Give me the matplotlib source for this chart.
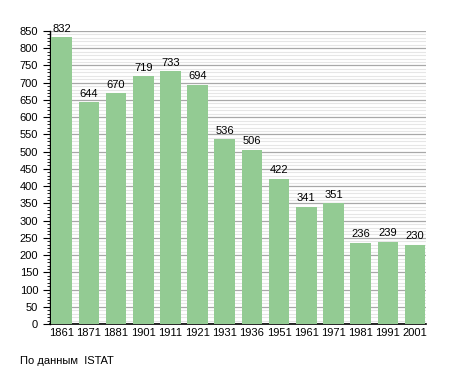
import numpy as np
import matplotlib
matplotlib.use("Agg")
import matplotlib.pyplot as plt
from matplotlib.ticker import MultipleLocator

years = ['1861', '1871', '1881', '1901', '1911', '1921', '1931',
         '1936', '1951', '1961', '1971', '1981', '1991', '2001']
population = [832, 644, 670, 719, 733, 694, 536, 506, 422, 341, 351, 236, 239, 230]

plt.rcParams['font.family'] = ['Liberation Sans', 'DejaVu Sans']

fig = plt.figure(figsize=(4.55, 3.73), dpi=100)
ax = fig.add_axes([0.110, 0.131, 0.826, 0.786])

x = np.arange(len(years))
bars = ax.bar(x, population, width=0.76, color='#93cb93', zorder=3)

# grid: light every 10, darker every 50
ax.yaxis.set_major_locator(MultipleLocator(50))
ax.yaxis.set_minor_locator(MultipleLocator(10))
ax.grid(axis='y', which='minor', color='#e6e6e6', linewidth=0.8, zorder=0)
ax.grid(axis='y', which='major', color='#a8a8a8', linewidth=0.9, zorder=1)

for xi, v in zip(x, population):
    ax.text(xi, v + 10, str(v), ha='center', va='bottom', fontsize=8)

ax.set_xlim(-0.43, 13.4)
ax.set_ylim(0, 850)
ax.set_xticks(x)
ax.set_xticklabels(years, fontsize=8)
ax.tick_params(axis='y', labelsize=8, length=5, width=0.8, direction='out')
ax.tick_params(axis='y', which='minor', length=2.5, width=0.6)
ax.tick_params(axis='x', length=0, pad=3)

for s in ['top', 'right']:
    ax.spines[s].set_visible(False)
ax.spines['left'].set_linewidth(1.0)
ax.spines['bottom'].set_linewidth(1.2)

fig.text(20/455, 1 - 361/373, 'По данным  ISTAT', fontsize=8, va='center')

fig.savefig('out.png', dpi=100)
